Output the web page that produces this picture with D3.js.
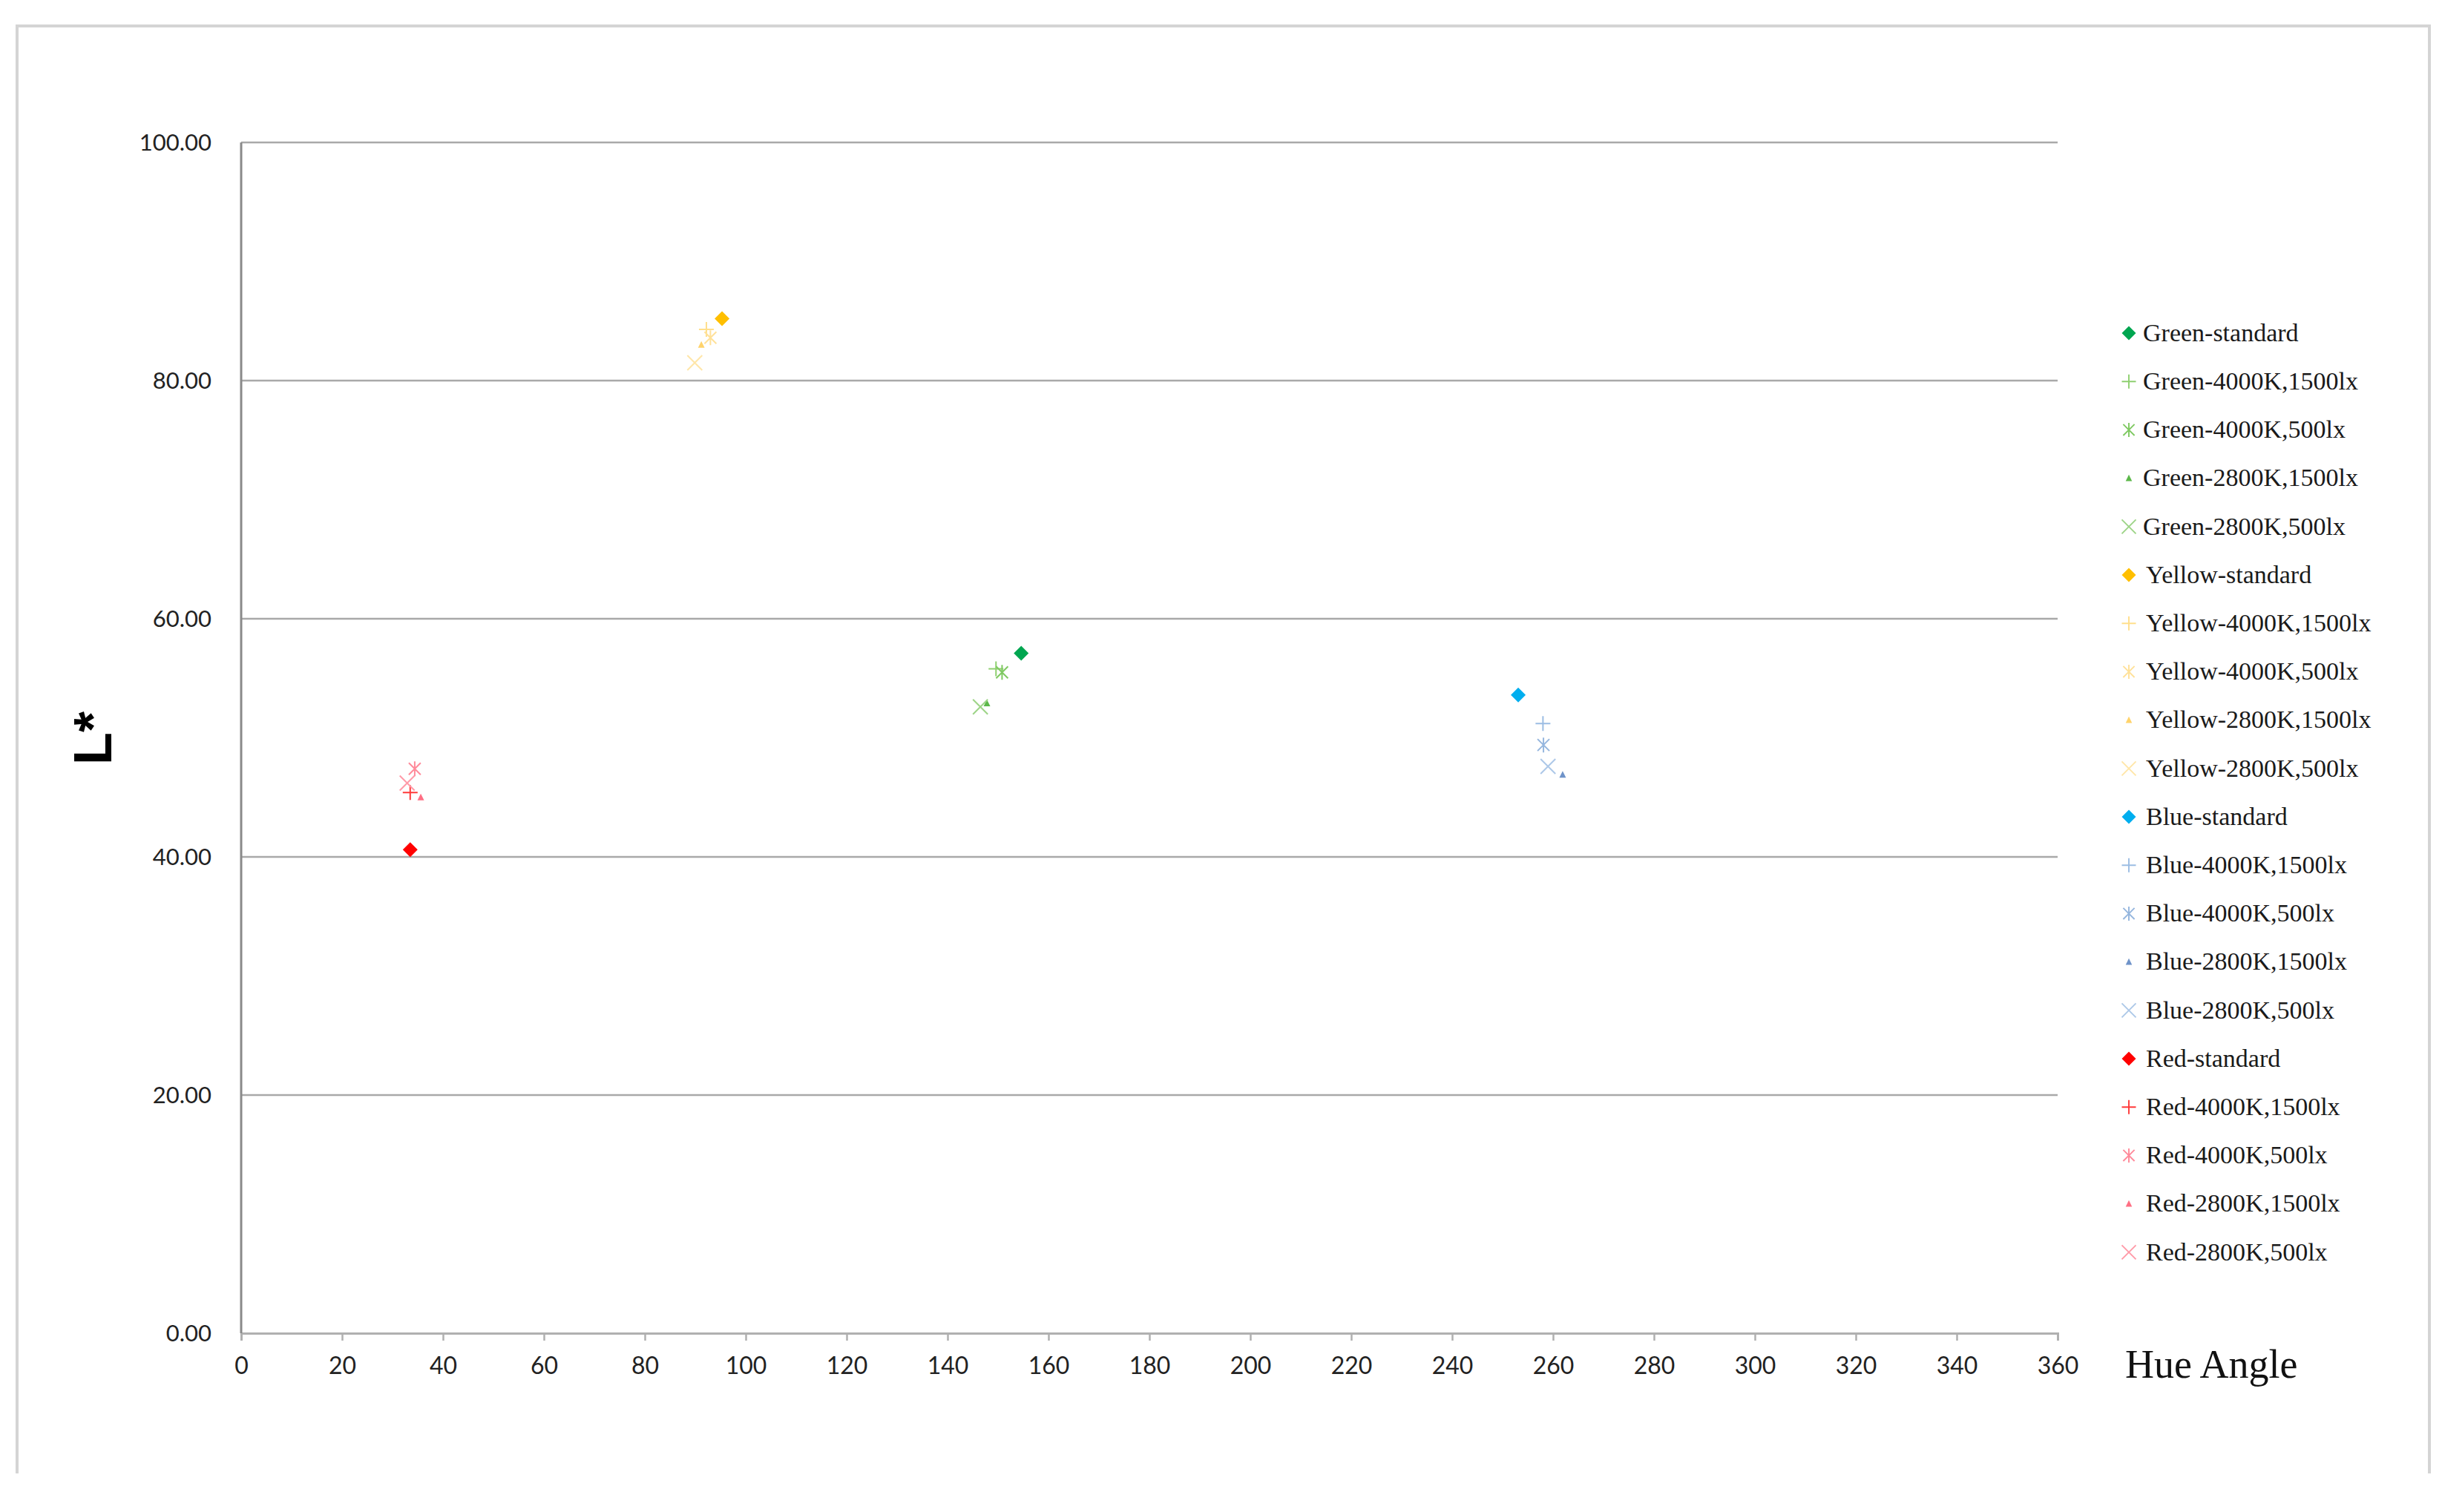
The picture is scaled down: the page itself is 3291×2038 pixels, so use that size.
<!DOCTYPE html>
<html>
<head>
<meta charset="utf-8">
<script src="https://cdn.jsdelivr.net/npm/d3@7"></script>
<style>
  body { margin: 0; background: #fff; }
</style>
</head>
<body>
<script>
// values: hue angle / L*
const colours = ['Green', 'Yellow', 'Blue', 'Red'];
const conditions = ['standard', '4000K,1500lx', '4000K,500lx', '2800K,1500lx', '2800K,500lx'];

const greenHue = [154.6, 149.6, 150.8, 147.8, 146.5];
const greenL = [57.1, 55.8, 55.5, 52.9, 52.6];
const yellowHue = [95.3, 92.2, 93.0, 91.2, 89.9];
const yellowL = [85.2, 84.3, 83.6, 83.0, 81.5];
const blueHue = [253.1, 258.0, 258.1, 261.9, 259.0];
const blueL = [53.6, 51.2, 49.4, 46.9, 47.6];
const redHue = [33.5, 33.5, 34.4, 35.6, 32.9];
const redL = [40.6, 45.4, 47.4, 45.0, 46.2];

const xTicks = d3.range(0, 361, 20);
const yTicks = [0, 20, 40, 60, 80, 100];

const hues = { Green: greenHue, Yellow: yellowHue, Blue: blueHue, Red: redHue };
const lights = { Green: greenL, Yellow: yellowL, Blue: blueL, Red: redL };

// colour per series (colour group x condition)
const palette = {
  Green: ['#00a650', '#8fd070', '#7fc962', '#5cb84a', '#9dd487'],
  Yellow: ['#ffbf00', '#ffdf8c', '#ffe199', '#ffd36b', '#ffe6a8'],
  Blue: ['#00aeef', '#9cbde3', '#95b6de', '#6f93c9', '#adc8e8'],
  Red: ['#ff0000', '#ff3a3a', '#ff8a9a', '#ff6f84', '#ff9aa8']
};
const shapes = ['diamond', 'plus', 'star', 'triangle', 'cross'];

const W = 3291, H = 2038;
const svg = d3.select('body').append('svg')
  .attr('width', W)
  .attr('height', H);

// outer frame (bottom edge cut off in the picture)
svg.append('path')
  .attr('d', 'M23,1986 V35 H3274 V1986')
  .attr('fill', 'none')
  .attr('stroke', '#d4d4d4')
  .attr('stroke-width', 4);

const x = d3.scaleLinear().domain([0, 360]).range([325, 2773]);
const y = d3.scaleLinear().domain([0, 100]).range([1797, 192]);

// horizontal gridlines
svg.append('g')
  .selectAll('line')
  .data(yTicks.filter(d => d > 0))
  .join('line')
  .attr('x1', x(0))
  .attr('x2', x(360))
  .attr('y1', d => y(d))
  .attr('y2', d => y(d))
  .attr('stroke', '#a9a9a9')
  .attr('stroke-width', 2.5);

// y labels
svg.append('g')
  .selectAll('text')
  .data(yTicks)
  .join('text')
  .attr('x', 285)
  .attr('y', d => y(d))
  .attr('dy', '0.35em')
  .attr('text-anchor', 'end')
  .attr('font-family', 'Lato, "Liberation Sans", sans-serif')
  .attr('font-size', 31)
  .attr('fill', '#222')
  .text(d => d3.format('.2f')(d));

// x axis
const xAxis = svg.append('g')
  .attr('transform', `translate(0,${y(0)})`)
  .call(d3.axisBottom(x).tickValues(xTicks).tickSize(10).tickPadding(22).tickFormat(d3.format('d')));
xAxis.select('.domain').attr('stroke', '#b0b0b0').attr('stroke-width', 3);
xAxis.selectAll('.tick line').attr('stroke', '#b0b0b0').attr('stroke-width', 2.5);
xAxis.selectAll('.tick text')
  .attr('font-family', 'Lato, "Liberation Sans", sans-serif')
  .attr('font-size', 32)
  .attr('fill', '#222');

// y axis line
svg.append('line')
  .attr('x1', x(0)).attr('x2', x(0))
  .attr('y1', y(100)).attr('y2', y(0))
  .attr('stroke', '#8a8a8a')
  .attr('stroke-width', 3);

// axis titles
svg.append('text')
  .attr('x', 2864)
  .attr('y', 1857)
  .attr('font-family', '"Liberation Serif", "Times New Roman", serif')
  .attr('font-size', 54)
  .attr('fill', '#111')
  .text('Hue Angle');

svg.append('text')
  .attr('transform', 'translate(150,995) rotate(-90)')
  .attr('text-anchor', 'middle')
  .attr('font-family', '"Liberation Sans", Arial, sans-serif')
  .attr('font-weight', 'bold')
  .attr('font-size', 72)
  .attr('fill', '#000')
  .text('L*');

function marker(sel, shape, colour) {
  if (shape === 'diamond') {
    sel.append('path')
      .attr('d', 'M0,-10 L10,0 L0,10 L-10,0 Z')
      .attr('fill', colour);
  } else if (shape === 'triangle') {
    sel.append('path')
      .attr('d', 'M0,-5 L4.5,4 L-4.5,4 Z')
      .attr('fill', colour);
  } else {
    let d = '';
    if (shape === 'plus') d = 'M-10,0 H10 M0,-10 V10';
    if (shape === 'cross') d = 'M-10,-10 L10,10 M-10,10 L10,-10';
    if (shape === 'star') d = 'M-8,-8 L8,8 M-8,8 L8,-8 M0,-10 V10';
    sel.append('path')
      .attr('d', d)
      .attr('fill', 'none')
      .attr('stroke', colour)
      .attr('stroke-width', 2);
  }
}

// points
const points = [];
colours.forEach(c => {
  conditions.forEach((cond, i) => {
    points.push({ c, i, hue: hues[c][i], L: lights[c][i] });
  });
});

// draw light markers first, standard diamonds on top
points.sort((a, b) => (a.i === 0) - (b.i === 0));
svg.append('g')
  .selectAll('g')
  .data(points)
  .join('g')
  .attr('transform', d => `translate(${x(d.hue)},${y(d.L)})`)
  .each(function (d) {
    marker(d3.select(this), shapes[d.i], palette[d.c][d.i]);
  });

// legend
const legendItems = [];
colours.forEach(c => conditions.forEach((cond, i) => legendItems.push({ c, i, label: c + '-' + cond })));

const leg = svg.append('g')
  .selectAll('g')
  .data(legendItems)
  .join('g')
  .attr('transform', (d, k) => `translate(2869,${449 + k * 65.2})`);

leg.each(function (d) {
  const g = d3.select(this).append('g').attr('transform', 'scale(0.95)');
  marker(g, shapes[d.i], palette[d.c][d.i]);
});

leg.append('text')
  .attr('x', d => d.c === 'Green' ? 19 : 23)
  .attr('dy', '0.32em')
  .attr('font-family', '"Liberation Serif", "Times New Roman", serif')
  .attr('font-size', 34)
  .attr('fill', '#1a1a1a')
  .text(d => d.label);
</script>
</body>
</html>
